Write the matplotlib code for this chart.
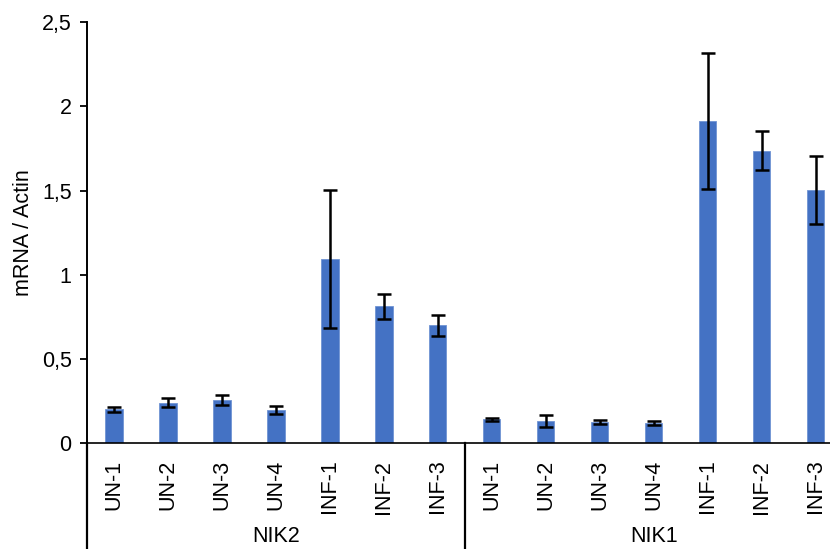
import matplotlib
matplotlib.use("Agg")
import matplotlib.pyplot as plt
import numpy as np

# Expression data (mRNA normalised to actin) for two genes
groups = ["NIK2", "NIK1"]
samples = ["UN-1", "UN-2", "UN-3", "UN-4", "INF-1", "INF-2", "INF-3"]
nik2_mean = [0.20, 0.24, 0.255, 0.197, 1.095, 0.812, 0.70]
nik2_err = [0.013, 0.028, 0.030, 0.025, 0.41, 0.073, 0.063]
nik1_mean = [0.141, 0.132, 0.123, 0.119, 1.912, 1.738, 1.504]
nik1_err = [0.010, 0.035, 0.013, 0.013, 0.405, 0.118, 0.204]
yticks = [0, 0.5, 1, 1.5, 2, 2.5]
ytick_labels = ["0", "0,5", "1", "1,5", "2", "2,5"]

plt.rcParams["font.family"] = ["Liberation Sans", "DejaVu Sans"]
FS = 15.5

means = nik2_mean + nik1_mean
errs = nik2_err + nik1_err
labels = samples + samples
x = np.arange(len(means))

W, H = 830, 549
fig = plt.figure(figsize=(W / 100, H / 100), dpi=100)
left_px, right_px, zero_px, top_px = 87.0, 842.7, 443.0, 22.3
ax = fig.add_axes([left_px / W, (H - zero_px) / H,
                   (right_px - left_px) / W, (zero_px - top_px) / H])

ax.bar(x, means, width=0.32, color="#4472C4", edgecolor="#6F93D3", linewidth=0.6, zorder=2)
ax.errorbar(x, means, yerr=errs, fmt="none", ecolor="black",
            elinewidth=1.8, capsize=5, capthick=1.8, zorder=3)

ax.set_xlim(-0.5, len(means) - 0.5)
ax.set_ylim(0, 2.5)
ax.set_yticks(yticks)
ax.set_yticklabels(ytick_labels, fontsize=FS)
ax.set_xticks(x)
ax.set_xticklabels(labels, rotation=90, fontsize=FS)
ax.tick_params(axis="x", length=0, pad=12)
ax.tick_params(axis="y", length=5, width=1.3, direction="out", pad=6)

for side in ("top", "right"):
    ax.spines[side].set_visible(False)
ax.spines["left"].set_linewidth(1.4)
ax.spines["bottom"].set_linewidth(1.2)
ax.spines["bottom"].set_color("black")

ax.set_ylabel("mRNA / Actin", fontsize=FS, labelpad=6)

# Group separators and group labels below the category axis
trans = ax.get_xaxis_transform()
n = len(samples)
for b in [-0.5, n - 0.5, 2 * n - 0.5]:
    ax.plot([b, b], [0, -0.3], color="black", lw=1.6, transform=trans, clip_on=False)
axh = zero_px - top_px
for i, g in enumerate(groups):
    ax.text(i * n + (n - 1) / 2, -(537 - zero_px) / axh, g, transform=trans,
            ha="center", va="center", fontsize=FS)

fig.savefig("out.png", dpi=100)
